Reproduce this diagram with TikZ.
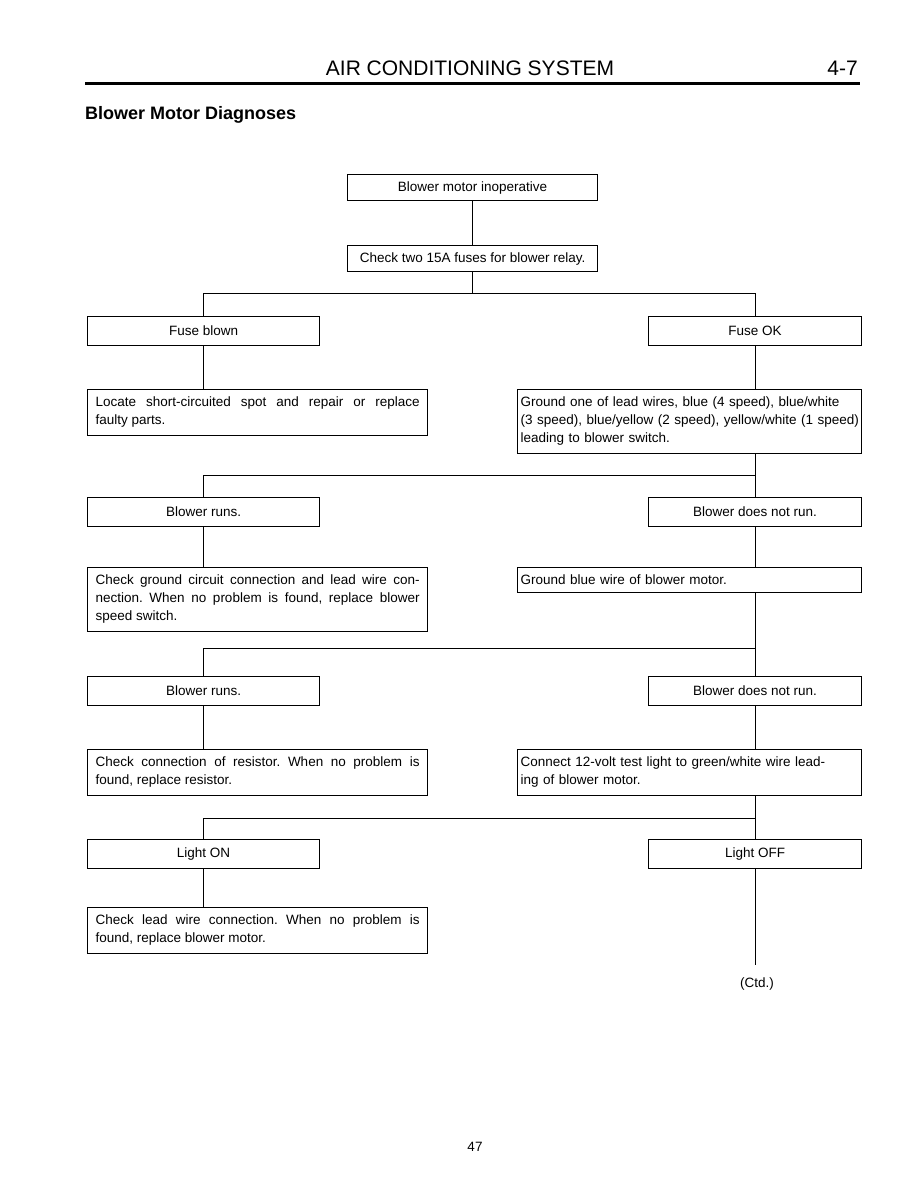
\documentclass[tikz,border=0pt]{standalone}
\usepackage{fontspec}
\setmainfont{Liberation Sans}
\usetikzlibrary{positioning}
\frenchspacing
\newcommand{\boxfont}{\fontsize{13.5}{18}\selectfont}
\tikzset{
  wire/.style={line width=1.1pt},
  box/.style={draw, line width=1.2pt, fill=white, anchor=north west, inner sep=0pt, font=\boxfont},
  topbox/.style={box, minimum width=250pt, minimum height=26pt},
  lsmall/.style={box, minimum width=232pt, minimum height=29pt},
  rsmall/.style={box, minimum width=213pt, minimum height=29pt},
  lbig/.style={box, text width=324pt, inner xsep=8pt, inner ysep=7.5pt, align=justify},
  rbig/.style={box, text width=338pt, inner xsep=3pt, inner ysep=7.5pt, align=left}
}
\begin{document}
\begin{tikzpicture}[x=1pt,y=-1pt]
  \useasboundingbox[fill=white] (0,0) rectangle (916,1188);
  % page head
  \node[font=\fontsize{21}{24}\selectfont, anchor=base, inner sep=0pt] (head) at (470,76) {AIR CONDITIONING SYSTEM};
  \node[font=\fontsize{21}{24}\selectfont, anchor=base east, inner sep=0pt] (pageno) at (858,76) {4-7};
  \draw[line width=3pt] (85,84) -- (860,84);
  \node[font=\fontsize{18}{20}\selectfont\bfseries, anchor=base west, inner sep=0pt] (title) at (85,120) {Blower Motor Diagnoses};

  % boxes
  \node[topbox] (inop) at (347,174) {Blower motor inoperative};
  \node[topbox] (fuses) at (347,245) {Check two 15A fuses for blower relay.};
  \node[lsmall] (blown) at (87,316) {Fuse blown};
  \node[rsmall] (fuseok) at (648,316) {Fuse OK};
  \node[lbig] (locate) at (87,389) {Locate short-circuited spot and repair or replace\linebreak faulty parts.};
  \node[rbig] (leads) at (517,389) {Ground one of lead wires, blue (4 speed), blue/white\\\mbox{(3 speed), blue/yellow (2 speed), yellow/white (1 speed)}\\leading to blower switch.};
  \node[lsmall] (runsA) at (87,497) {Blower runs.};
  \node[rsmall] (notrunA) at (648,497) {Blower does not run.};
  \node[lbig] (gndckt) at (87,567) {Check ground circuit connection and lead wire con-\linebreak nection. When no problem is found, replace blower\linebreak speed switch.};
  \node[rbig] (bluewire) at (517,567) {Ground blue wire of blower motor.};
  \node[lsmall] (runsB) at (87,676) {Blower runs.};
  \node[rsmall] (notrunB) at (648,676) {Blower does not run.};
  \node[lbig] (resistor) at (87,749) {Check connection of resistor. When no problem is\linebreak found, replace resistor.};
  \node[rbig] (testlight) at (517,749) {Connect 12-volt test light to green/white wire lead-\\ing of blower motor.};
  \node[lsmall] (lighton) at (87,839) {Light ON};
  \node[rsmall] (lightoff) at (648,839) {Light OFF};
  \node[lbig] (motor) at (87,907) {Check lead wire connection. When no problem is\linebreak found, replace blower motor.};
  \node[font=\boxfont] (ctd) at (757,984) {(Ctd.)};
  \node[font=\boxfont] (pagenum) at (475,1147) {47};

  % connectors
  \draw[wire] (inop) -- (fuses);
  \draw[wire] (fuses.south) -- ++(0,21) coordinate (j1);
  \draw[wire] (blown.north) |- (j1) -| (fuseok.north);
  \draw[wire] (blown.south) -- (blown.south |- locate.north);
  \draw[wire] (fuseok.south) -- (fuseok.south |- leads.north);
  \draw[wire] (fuseok.south |- leads.south) -- ++(0,22) coordinate (j2);
  \draw[wire] (runsA.north) |- (j2) -- (notrunA.north);
  \draw[wire] (runsA.south) -- (runsA.south |- gndckt.north);
  \draw[wire] (notrunA.south) -- (notrunA.south |- bluewire.north);
  \draw[wire] (notrunA.south |- bluewire.south) -- ++(0,55) coordinate (j3);
  \draw[wire] (runsB.north) |- (j3) -- (notrunB.north);
  \draw[wire] (runsB.south) -- (runsB.south |- resistor.north);
  \draw[wire] (notrunB.south) -- (notrunB.south |- testlight.north);
  \draw[wire] (notrunB.south |- testlight.south) -- ++(0,23) coordinate (j4);
  \draw[wire] (lighton.north) |- (j4) -- (lightoff.north);
  \draw[wire] (lighton.south) -- (lighton.south |- motor.north);
  \coordinate (ctdend) at (lightoff.south |- 0,965);
  \draw[wire] (lightoff.south) -- (ctdend);
\end{tikzpicture}
\end{document}
